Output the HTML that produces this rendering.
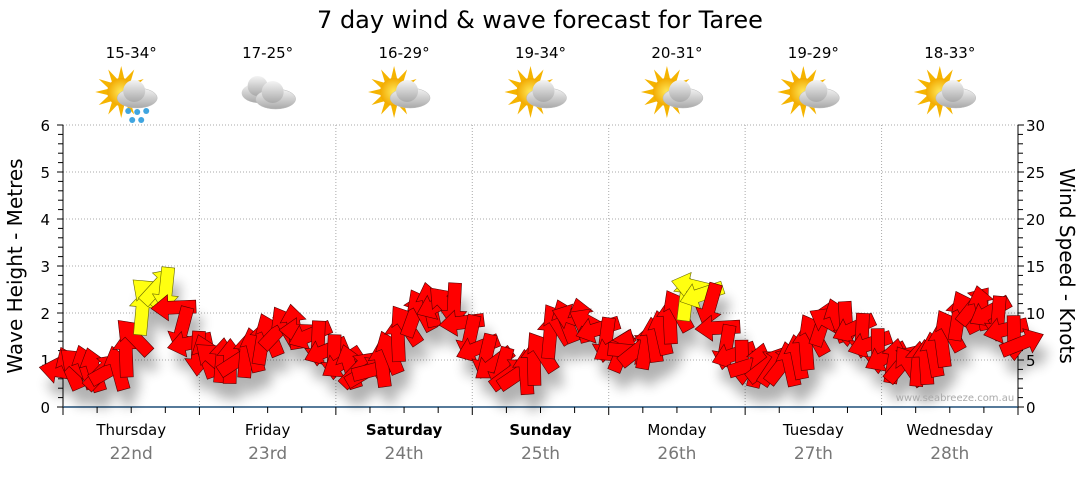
<!DOCTYPE html>
<html><head><meta charset="utf-8"><style>
body{margin:0;background:#fff;width:1080px;height:475px;overflow:hidden}
svg{font-family:"DejaVu Sans","Liberation Sans",sans-serif}
</style></head><body>
<svg id="s" width="1080" height="475" xmlns="http://www.w3.org/2000/svg">
<defs>
<radialGradient id="sun" cx="50%" cy="50%" r="50%"><stop offset="0" stop-color="#ffe95a"/><stop offset="1" stop-color="#f2a900"/></radialGradient>
<linearGradient id="cl" x1="0" y1="0" x2="0" y2="1"><stop offset="0" stop-color="#f4f4f4"/><stop offset="1" stop-color="#a9a9a9"/></linearGradient>
<filter id="sh" x="-50%" y="-50%" width="200%" height="200%"><feGaussianBlur stdDeviation="6"/></filter>
</defs>
<text x="540" y="28" font-size="24" text-anchor="middle" fill="#000">7 day wind &amp; wave forecast for Taree</text>
<g id="grid"></g>
<g id="shadow" filter="url(#sh)" opacity="0.3"></g>
<g id="arrows"></g>
<text x="955" y="401" font-size="10" fill="#aaa" text-anchor="middle">www.seabreeze.com.au</text>
<text transform="translate(22,266) rotate(-90)" font-size="20" text-anchor="middle">Wave Height - Metres</text>
<text transform="translate(1060,266) rotate(90)" font-size="20" text-anchor="middle">Wind Speed - Knots</text>
</svg>
<script>
var s=document.getElementById('s'),g=document.getElementById('grid'),A=document.getElementById('arrows'),S=document.getElementById('shadow');
var NS='http://www.w3.org/2000/svg';
function el(p,t,a,txt){var e=document.createElementNS(NS,t);for(var k in a)e.setAttribute(k,a[k]);if(txt!=null)e.textContent=txt;p.appendChild(e);return e;}
var X0=63,X1=1018,Y0=407,U=47,DW=(X1-X0)/7;
for(var i=1;i<=6;i++){var y=Y0-i*U;el(g,'line',{x1:X0,x2:X1,y1:y,y2:y,stroke:'#aaa','stroke-dasharray':'1,2'});}
for(var d=1;d<7;d++){var x=X0+d*DW;el(g,'line',{x1:x,x2:x,y1:125,y2:Y0,stroke:'#aaa','stroke-dasharray':'1,2'});}
el(g,'line',{x1:X0,x2:X0,y1:125,y2:Y0,stroke:'#000'});
el(g,'line',{x1:X1,x2:X1,y1:125,y2:Y0,stroke:'#000'});
for(var i=0;i<=30;i++){var y=Y0-i*U/5;var L=i%5==0?6:5;
 el(g,'line',{x1:X0-L,x2:X0,y1:y,y2:y,stroke:'#000'});
 el(g,'line',{x1:X1,x2:X1+L,y1:y,y2:y,stroke:'#000'});}
for(var i=0;i<=6;i++)el(g,'text',{x:50,y:Y0-i*U+6,'font-size':15,'text-anchor':'end'},i);
for(var i=0;i<=30;i+=5)el(g,'text',{x:1026,y:Y0-i/5*U+6,'font-size':15},i);
el(g,'line',{x1:X0,x2:X1,y1:Y0,y2:Y0,stroke:'#1f4e79','stroke-width':1.5});
for(var i=0;i<=28;i++){var x=X0+i*DW/4;el(g,'line',{x1:x,x2:x,y1:Y0,y2:Y0+(i%4==0?8:6),stroke:'#000'});}
var days=['Thursday','Friday','Saturday','Sunday','Monday','Tuesday','Wednesday'],dates=['22nd','23rd','24th','25th','26th','27th','28th'],temps=['15-34°','17-25°','16-29°','19-34°','20-31°','19-29°','18-33°'];
for(var d=0;d<7;d++){var cx=X0+DW*(d+.5);
 el(g,'text',{x:cx,y:435,'font-size':15,'text-anchor':'middle','font-weight':(d==2||d==3)?'bold':'normal'},days[d]);
 el(g,'text',{x:cx,y:459,'font-size':17,'text-anchor':'middle',fill:'#777'},dates[d]);
 el(g,'text',{x:cx,y:58,'font-size':15,'text-anchor':'middle'},temps[d]);
 var ix=cx,iy=96;
 if(d!=1){for(var k=0;k<12;k++){var a=k*Math.PI/6;el(g,'polygon',{points:(ix-10+Math.cos(a)*26)+','+(iy-4+Math.sin(a)*26)+' '+(ix-10+Math.cos(a+.25)*13)+','+(iy-4+Math.sin(a+.25)*13)+' '+(ix-10+Math.cos(a-.25)*13)+','+(iy-4+Math.sin(a-.25)*13),fill:'#f5b400'});}
  el(g,'circle',{cx:ix-10,cy:iy-4,r:14,fill:'url(#sun)'});}
 var cxx=ix+6,cyy=iy+2;
 if(d==1){cxx=ix-8;cyy=iy-3;el(g,'ellipse',{cx:cxx,cy:cyy,rx:18,ry:10,fill:'url(#cl)'});el(g,'circle',{cx:cxx-2,cy:cyy-7,r:10,fill:'url(#cl)'});cxx=ix+8;cyy=iy+3;}
 el(g,'ellipse',{cx:cxx,cy:cyy,rx:20,ry:10,fill:'url(#cl)',stroke:'#bbb','stroke-width':.5});
 el(g,'circle',{cx:cxx-3,cy:cyy-7,r:11,fill:'url(#cl)'});
 if(d==0){[[-9,13],[0,14],[9,13],[-5,22],[4,22]].forEach(function(p){el(g,'circle',{cx:cxx+p[0],cy:cyy+p[1],r:3,fill:'#3fa5e0'});});}
}
var P=[[60,372],[80,365],[100,372],[120,368],[133,340],[143,310],[155,285],[168,290],[180,325],[195,352],[215,360],[235,362],[252,352],[270,335],[290,325],[310,335],[325,350],[345,365],[365,372],[380,368],[395,345],[410,318],[430,305],[455,305],[465,330],[478,348],[495,365],[512,375],[528,372],[542,352],[556,325],[575,318],[595,325],[610,345],[625,352],[645,348],[662,333],[680,308],[695,285],[710,305],[724,345],[745,365],[770,366],[792,364],[806,348],[820,325],[840,320],[857,330],[872,346],[890,360],[910,366],[928,362],[942,345],[956,320],[975,305],[995,314],[1010,335],[1025,345]];
function yAt(x){for(var i=1;i<P.length;i++)if(x<=P[i][0]){var a=P[i-1],b=P[i],t=(x-a[0])/(b[0]-a[0]);return a[1]+(b[1]-a[1])*t;}return P[P.length-1][1];}
function slope(x){return (yAt(x+6)-yAt(x-6))/12;}
var arr='M0,-23 L13,-6 L6.5,-6 L6.5,22 L-6.5,22 L-6.5,-6 L-13,-6 Z';
for(var x=62;x<=1022;x+=8){
 var y=yAt(x),sl=slope(x);
 var ang=Math.atan(sl)*180/Math.PI;
 var rot=(sl<0? 20:-20)+ang*0.6+Math.sin(x*0.37)*35+ (sl<-0.5?0:(sl>0.5?-150:60*Math.cos(x*0.05)));
 var yel=(x>140&&x<172)||(x>684&&x<706);
 el(S,'path',{d:arr,transform:'translate('+(x+6)+','+(y+16)+') rotate('+rot+')',fill:'#000'});
 el(A,'path',{d:arr,transform:'translate('+x+','+y+') rotate('+rot+')',fill:yel?'#ffff10':'#ff0000',stroke:yel?'#666600':'#550000','stroke-width':.6});
}
</script>
</body></html>
